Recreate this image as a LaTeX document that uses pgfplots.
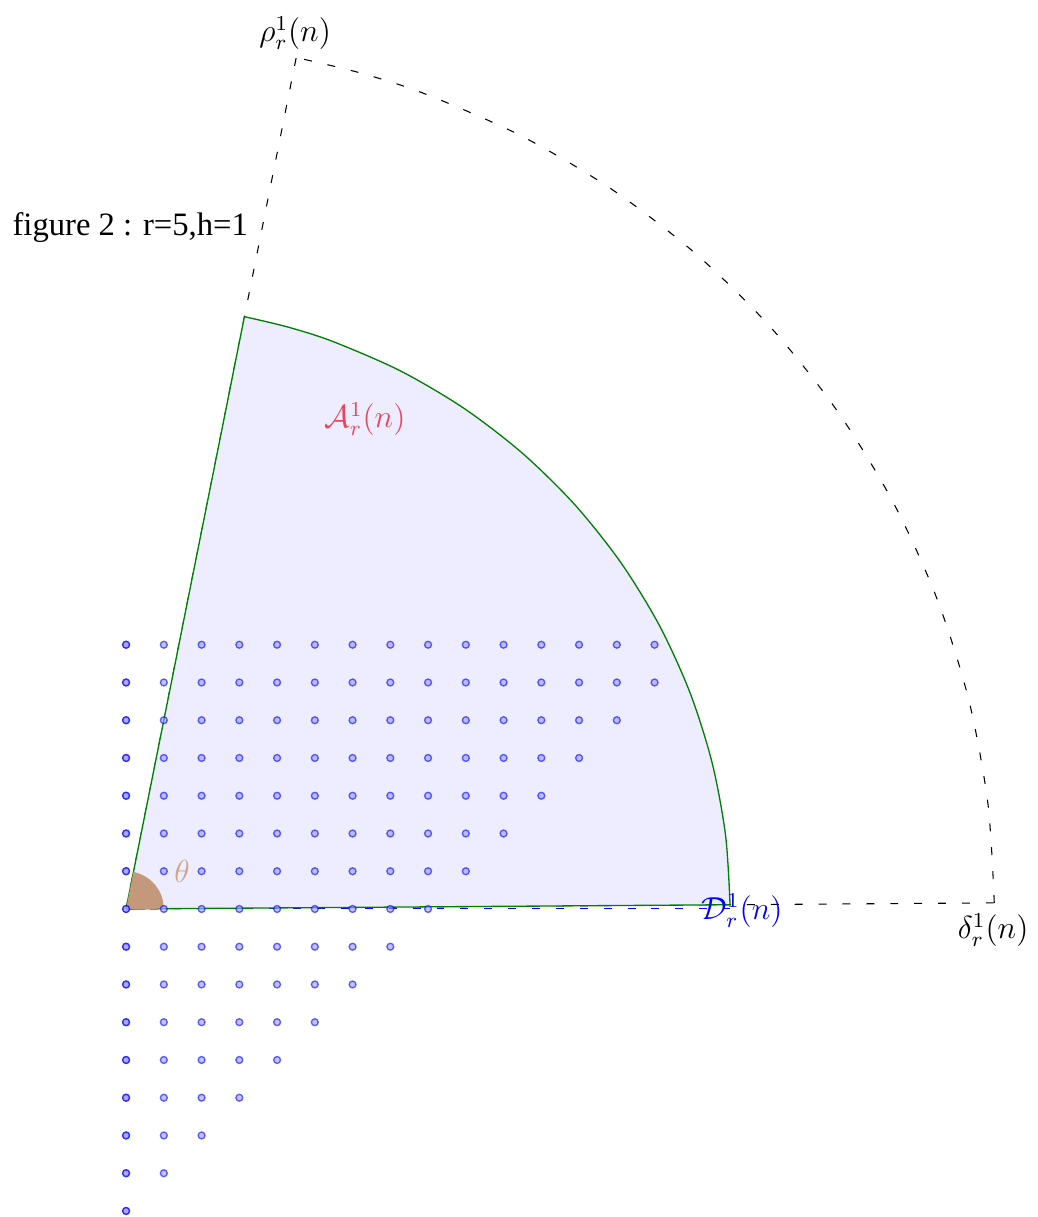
\documentclass[border=0pt]{standalone}
\usepackage{pgfplots}
\pgfplotsset{compat=1.18}
\usepackage{fontspec}
\newfontfamily\timesfont{Liberation Serif}
\definecolor{wedge}{RGB}{196,152,122}
\definecolor{thetac}{RGB}{205,165,135}
\definecolor{acol}{RGB}{232,70,95}
\definecolor{gcol}{RGB}{0,128,0}
\begin{document}
\begin{tikzpicture}
\begin{axis}[
  x=0.5cm, y=0.5cm,
  xmin=-3.34, xmax=24.0, ymin=-8.16, ymax=24.08,
  hide axis, clip=false,
]
\path[draw=none] (rel axis cs:0,0) rectangle (rel axis cs:1,1);
% dashed outer sector
\addplot[black, loosely dashed, line width=0.4pt] coordinates {(0,0) (22.999,0.161)};
\addplot[black, loosely dashed, line width=0.4pt] coordinates {(0,0) (4.507,22.554)};
\addplot[black, loosely dashed, line width=0.4pt, smooth] coordinates {
(22.999,0.161) (22.829,2.803) (22.317,5.564) (21.472,8.243) (20.308,10.798)
(18.840,13.192) (17.092,15.390) (15.089,17.358) (12.861,19.068) (10.442,20.493)
(7.866,21.613) (6.147,22.163) (4.507,22.554)};
% filled sector
\addplot[draw=none, fill=blue!7, smooth] coordinates {
(16.000,0.112) (15.881,1.950) (15.525,3.871) (14.937,5.734) (14.127,7.512)
(13.106,9.177) (11.890,10.706) (10.497,12.075) (8.947,13.265) (7.264,14.256)
(5.472,15.035) (4.276,15.418) (3.135,15.690)} -- (axis cs:0,0) -- cycle;
\addplot[blue, loosely dashed, line width=0.4pt] coordinates {(0,0) (16,0)};
\addplot[gcol, line width=0.5pt] coordinates {(0,0) (16.000,0.112)};
\addplot[gcol, line width=0.5pt] coordinates {(0,0) (3.135,15.690)};
\addplot[gcol, line width=0.5pt, smooth] coordinates {
(16.000,0.112) (15.881,1.950) (15.525,3.871) (14.937,5.734) (14.127,7.512)
(13.106,9.177) (11.890,10.706) (10.497,12.075) (8.947,13.265) (7.264,14.256)
(5.472,15.035) (4.276,15.418) (3.135,15.690)};
% angle wedge
\addplot[draw=none, fill=wedge, smooth] coordinates {
(1.000,0.007) (0.970,0.242) (0.883,0.469) (0.743,0.669) (0.559,0.829)
(0.342,0.940) (0.196,0.981)} -- (axis cs:0,0) -- cycle;
% lattice points
\addplot[only marks, mark=*, mark size=1.3pt, mark options={draw=blue, fill=blue!40, opacity=0.6, line width=0.5pt}] coordinates {
(0,7)(1,7)(2,7)(3,7)(4,7)(5,7)(6,7)(7,7)(8,7)(9,7)(10,7)(11,7)(12,7)(13,7)(14,7)
(0,6)(1,6)(2,6)(3,6)(4,6)(5,6)(6,6)(7,6)(8,6)(9,6)(10,6)(11,6)(12,6)(13,6)(14,6)
(0,5)(1,5)(2,5)(3,5)(4,5)(5,5)(6,5)(7,5)(8,5)(9,5)(10,5)(11,5)(12,5)(13,5)
(0,4)(1,4)(2,4)(3,4)(4,4)(5,4)(6,4)(7,4)(8,4)(9,4)(10,4)(11,4)(12,4)
(0,3)(1,3)(2,3)(3,3)(4,3)(5,3)(6,3)(7,3)(8,3)(9,3)(10,3)(11,3)
(0,2)(1,2)(2,2)(3,2)(4,2)(5,2)(6,2)(7,2)(8,2)(9,2)(10,2)
(0,1)(1,1)(2,1)(3,1)(4,1)(5,1)(6,1)(7,1)(8,1)(9,1)
(0,0)(1,0)(2,0)(3,0)(4,0)(5,0)(6,0)(7,0)(8,0)
(0,-1)(1,-1)(2,-1)(3,-1)(4,-1)(5,-1)(6,-1)(7,-1)
(0,-2)(1,-2)(2,-2)(3,-2)(4,-2)(5,-2)(6,-2)
(0,-3)(1,-3)(2,-3)(3,-3)(4,-3)(5,-3)
(0,-4)(1,-4)(2,-4)(3,-4)(4,-4)
(0,-5)(1,-5)(2,-5)(3,-5)
(0,-6)(1,-6)(2,-6)
(0,-7)(1,-7)
(0,-8)};
\addplot[only marks, mark=*, mark size=1.3pt, mark options={draw=blue, fill=blue!40, opacity=0.6, line width=0.5pt}] coordinates {
(0,7)(0,6)(0,5)(0,4)(0,3)(0,2)(0,1)(0,0)(0,-1)(0,-2)(0,-3)(0,-4)(0,-5)(0,-6)(0,-7)(0,-8)};
% labels
\node[font=\fontsize{12}{14}\selectfont] at (axis cs:4.48,23.2) {$\rho_r^1(n)$};
\node[font=\fontsize{12}{14}\selectfont] at (axis cs:22.97,-0.56) {$\delta_r^1(n)$};
\node[font=\fontsize{12}{14}\selectfont, text=blue] at (axis cs:16.32,-0.05) {$\mathcal{D}_r^1(n)$};
\node[font=\fontsize{12}{14}\selectfont, text=acol] at (axis cs:6.33,12.98) {$\mathcal{A}_r^1(n)$};
\node[font=\fontsize{12}{14}\selectfont, text=thetac] at (axis cs:1.48,1.0) {$\theta$};
\node[font=\timesfont\fontsize{12.3}{14}\selectfont, anchor=west, inner sep=0pt] at (axis cs:-3.02,18.04) {figure 2 : r=5,h=1};
\end{axis}
\end{tikzpicture}
\end{document}
